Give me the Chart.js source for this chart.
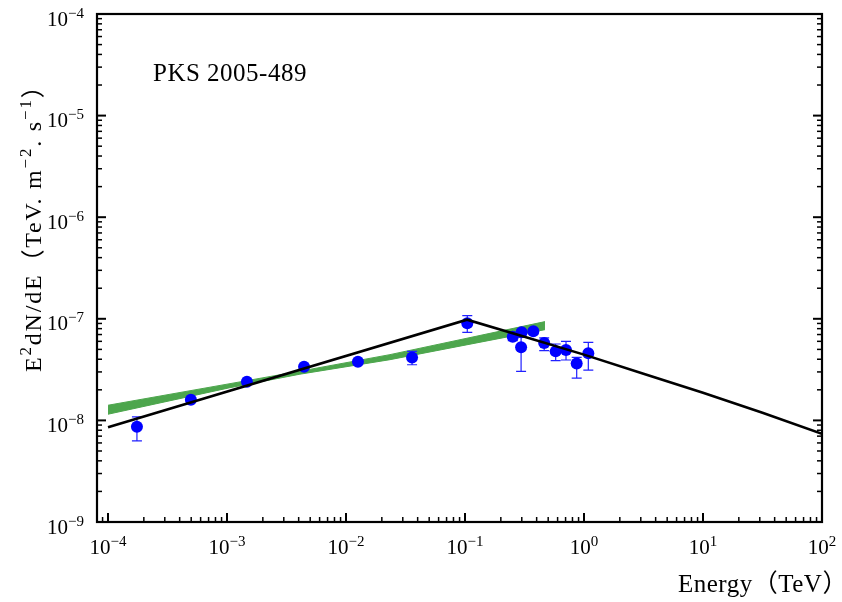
<!DOCTYPE html>
<html>
<head>
<meta charset="utf-8">
<title>PKS 2005-489</title>
<script src="https://cdn.jsdelivr.net/npm/chart.js@4.4.1/dist/chart.umd.min.js"></script>
<style>
  html, body { margin: 0; padding: 0; background: #fff; }
  canvas { display: block; }
</style>
</head>
<body>
<canvas id="sed" width="842" height="602"></canvas>
<script>
/* --------------- Measured Points (TeV, TeV m^-2 s^-1) --------------------- */
const energy = [1.75e-4, 4.97e-4, 1.47e-3, 4.44e-3, 1.26e-2, 3.59e-2, 0.1045, 0.252, 0.299, 0.296, 0.375, 0.463, 0.578, 0.706, 0.868, 1.087];
const flux = [8.65e-9, 1.6e-8, 2.4e-8, 3.38e-8, 3.78e-8, 4.17e-8, 9.03e-8, 6.67e-8, 7.36e-8, 5.24e-8, 7.53e-8, 5.79e-8, 4.78e-8, 4.93e-8, 3.64e-8, 4.57e-8];
const fluxLow = [6.3e-9, 1.55e-8, 2.33e-8, 3.28e-8, 3.67e-8, 3.53e-8, 7.36e-8, 6.1e-8, 7.0e-8, 3.04e-8, 7.1e-8, 4.86e-8, 3.87e-8, 3.93e-8, 2.61e-8, 3.13e-8];
const fluxHigh = [1.085e-8, 1.65e-8, 2.47e-8, 3.48e-8, 3.89e-8, 4.78e-8, 1.075e-7, 7.2e-8, 7.8e-8, 6.6e-8, 8.0e-8, 6.48e-8, 5.65e-8, 6.0e-8, 4.17e-8, 5.86e-8];

/* --------------- Model Curve --------------------- */
const modelEnergy = [1e-4, 0.104, 0.316, 1, 3.16, 10, 31.6, 100];
const modelFlux = [8.55e-9, 9.8e-8, 6.67e-8, 4.44e-8, 2.88e-8, 1.87e-8, 1.19e-8, 7.38e-9];

/* --------------- Fit Band --------------------- */
const bandEnergy = [1e-4, 1.06e-3, 4.1e-3, 2.34e-2, 0.47];
const bandLow = [1.15e-8, 2.1e-8, 2.85e-8, 3.96e-8, 7.82e-8];
const bandHigh = [1.41e-8, 2.3e-8, 3.05e-8, 4.44e-8, 9.38e-8];

/* --------------- Axes --------------------- */
const xDecades = [-4, -3, -2, -1, 0, 1, 2];
const yDecades = [-9, -8, -7, -6, -5, -4];
const sourceName = "PKS 2005-489";
const xTitle = "Energy\uFF08TeV\uFF09";
const yTitle = [["E", false], ["2", true], ["dN/dE\uFF08TeV. m", false], ["\u22122", true], [". s", false], ["\u22121", true], ["\uFF09", false]];

const serif = '"Liberation Serif", "Noto Sans CJK SC", serif';
const toXY = (xs, ys) => xs.map((v, i) => ({ x: v, y: ys[i] }));
const expText = (d) => (d < 0 ? "\u2212" + Math.abs(d) : String(d));

/* --------------- Rich Text (superscripts) --------------------- */
function richWidth(ctx, parts, size, supSize) {
  let w = 0;
  for (const [t, sup] of parts) {
    ctx.font = (sup ? supSize : size) + "px " + serif;
    w += ctx.measureText(t).width;
  }
  return w;
}
function drawRich(ctx, parts, x, y, size, supSize, raise) {
  for (const [t, sup] of parts) {
    ctx.font = (sup ? supSize : size) + "px " + serif;
    ctx.fillText(t, x, sup ? y - raise : y);
    x += ctx.measureText(t).width;
  }
}

/* --------------- Error Bars, Ticks, Frame, Labels --------------------- */
const sedFrame = {
  id: "sedFrame",
  beforeDatasetDraw(chart, args) {
    if (args.index !== 1) return;
    const { ctx, scales: { x, y } } = chart;
    ctx.save();
    ctx.strokeStyle = "#2020ff";
    ctx.lineWidth = 1.2;
    energy.forEach((e, i) => {
      const px = x.getPixelForValue(e);
      const lo = y.getPixelForValue(fluxLow[i]);
      const hi = y.getPixelForValue(fluxHigh[i]);
      ctx.beginPath();
      ctx.moveTo(px, lo); ctx.lineTo(px, hi);
      ctx.moveTo(px - 5, lo); ctx.lineTo(px + 5, lo);
      ctx.moveTo(px - 5, hi); ctx.lineTo(px + 5, hi);
      ctx.stroke();
    });
    ctx.restore();
  },
  afterDraw(chart) {
    const { ctx, chartArea: a, scales: { x, y } } = chart;
    ctx.save();
    ctx.strokeStyle = "#000";
    ctx.fillStyle = "#000";
    const seg = (x1, y1, x2, y2) => { ctx.beginPath(); ctx.moveTo(x1, y1); ctx.lineTo(x2, y2); ctx.stroke(); };

    // x ticks (bottom only, inward)
    for (let d = Math.floor(Math.log10(x.min)); d <= Math.log10(x.max); d++) {
      for (let m = 1; m < 10; m++) {
        const v = m * Math.pow(10, d);
        if (v < x.min || v > x.max * 1.0001) continue;
        const px = x.getPixelForValue(v);
        ctx.lineWidth = m === 1 ? 2 : 1.5;
        seg(px, a.bottom, px, a.bottom - (m === 1 ? 9 : 5));
      }
    }
    // y ticks (left and right, inward)
    for (let d = Math.floor(Math.log10(y.min)); d <= Math.log10(y.max); d++) {
      for (let m = 1; m < 10; m++) {
        const v = m * Math.pow(10, d);
        if (v < y.min * 0.9999 || v > y.max * 1.0001) continue;
        const py = y.getPixelForValue(v);
        const len = m === 1 ? 9 : 5;
        ctx.lineWidth = m === 1 ? 2 : 1.5;
        seg(a.left, py, a.left + len, py);
        seg(a.right, py, a.right - len, py);
      }
    }
    // frame
    ctx.lineWidth = 2.2;
    ctx.strokeRect(a.left, a.top, a.right - a.left, a.bottom - a.top);

    // tick labels
    ctx.textAlign = "left";
    ctx.textBaseline = "alphabetic";
    xDecades.forEach((d) => {
      const parts = [["10", false], [expText(d), true]];
      const w = richWidth(ctx, parts, 21, 15);
      drawRich(ctx, parts, x.getPixelForValue(Math.pow(10, d)) - w / 2, a.bottom + 32, 21, 15, 8);
    });
    yDecades.forEach((d) => {
      const parts = [["10", false], [expText(d), true]];
      const w = richWidth(ctx, parts, 21, 15);
      drawRich(ctx, parts, a.left - 13 - w, y.getPixelForValue(Math.pow(10, d)) + 11.5, 21, 15, 8);
    });

    // source name
    ctx.font = "25px " + serif;
    ctx.letterSpacing = "0.5px";
    ctx.fillText(sourceName, a.left + 56, a.top + 67);

    // x title
    ctx.font = "25px " + serif;
    ctx.letterSpacing = "0.5px";
    ctx.fillText(xTitle, a.right - 144, a.bottom + 70);
    ctx.letterSpacing = "0px";

    // y title (rotated)
    ctx.save();
    ctx.translate(41, 372);
    ctx.rotate(-Math.PI / 2);
    ctx.letterSpacing = "1.8px";
    drawRich(ctx, yTitle, 0, 0, 24, 17, 10);
    ctx.restore();

    ctx.restore();
  },
};

/* --------------- Chart --------------------- */
new Chart(document.getElementById("sed"), {
  type: "scatter",
  plugins: [sedFrame],
  data: {
    datasets: [
      {
        data: toXY(modelEnergy, modelFlux),
        showLine: true,
        borderColor: "#000",
        borderWidth: 2.6,
        pointRadius: 0,
        order: 0,
      },
      {
        data: toXY(energy, flux),
        backgroundColor: "#0000ff",
        borderWidth: 0,
        pointRadius: 6,
        order: 1,
      },
      {
        data: toXY(bandEnergy, bandLow),
        showLine: true,
        borderColor: "#4da64d",
        borderWidth: 1,
        pointRadius: 0,
        order: 3,
      },
      {
        data: toXY(bandEnergy, bandHigh),
        showLine: true,
        borderColor: "#4da64d",
        backgroundColor: "#4da64d",
        borderWidth: 1,
        pointRadius: 0,
        fill: "-1",
        order: 2,
      },
    ],
  },
  options: {
    responsive: false,
    animation: false,
    devicePixelRatio: 1,
    layout: { padding: { left: 97, right: 20, top: 14, bottom: 80 } },
    plugins: { legend: { display: false }, tooltip: { enabled: false } },
    scales: {
      x: { type: "logarithmic", min: 8.08e-5, max: 100, display: false },
      y: { type: "logarithmic", min: 1e-9, max: 1e-4, display: false },
    },
  },
});
</script>
</body>
</html>
